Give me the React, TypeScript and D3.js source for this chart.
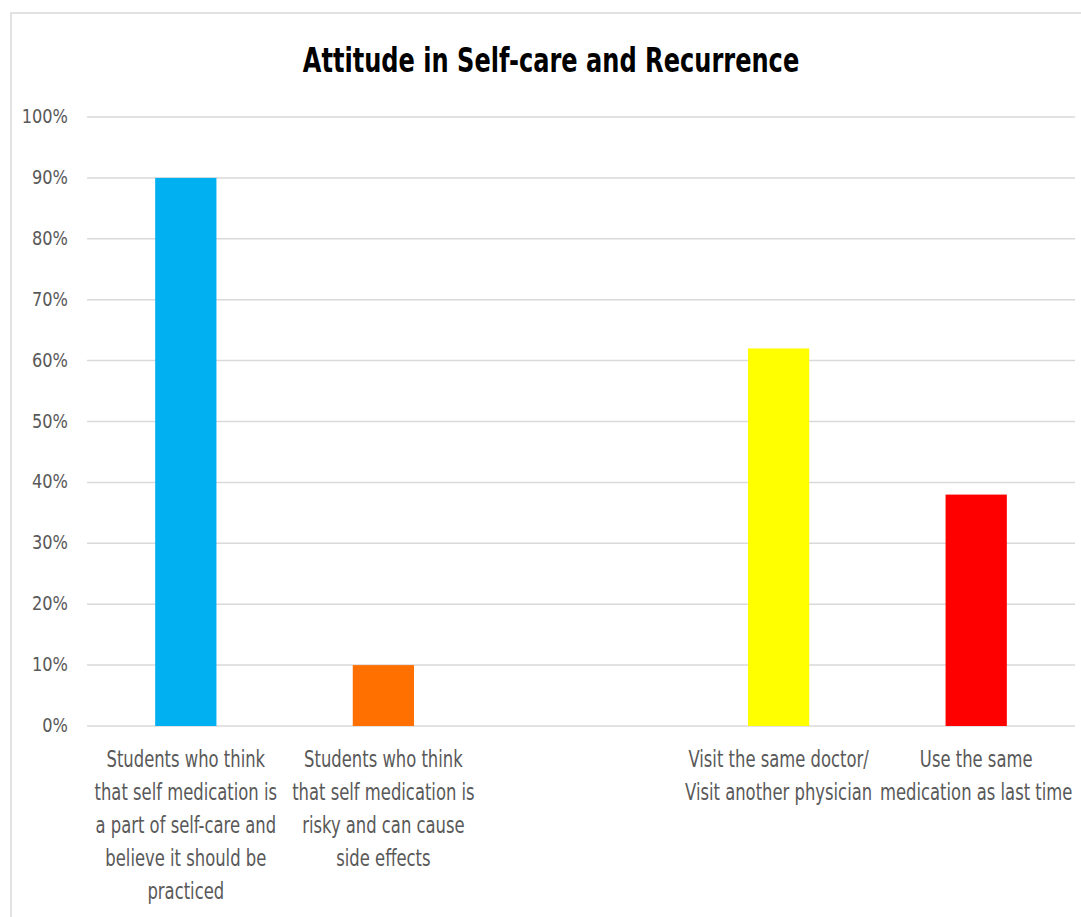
import React, { useEffect, useRef } from "react";
import * as d3 from "d3";

const categories = ["selfcare", "risky", "blank", "doctor", "samemed"];
const values: (number | null)[] = [0.9, 0.1, null, 0.62, 0.38];
const barColors = ["#00B0F0", "#FF7000", "#FFFFFF", "#FFFF00", "#FF0000"];
const labelLines: string[][] = [
  ["Students who think", "that self medication is", "a part of self-care and", "believe it should be", "practiced"],
  ["Students who think", "that self medication is", "risky and can cause", "side effects"],
  [],
  ["Visit the same doctor/", "Visit another physician"],
  ["Use the same", "medication as last time"],
];
const yTicks = [0, 0.1, 0.2, 0.3, 0.4, 0.5, 0.6, 0.7, 0.8, 0.9, 1.0];
const title = "Attitude in Self-care and Recurrence";

const W = 1081;
const H = 917;
const FONT = "'DejaVu Sans Condensed', 'Liberation Sans', sans-serif";

export default function App() {
  const ref = useRef<SVGSVGElement>(null);
  useEffect(() => {
    const svg = d3.select(ref.current);
    svg.selectAll("*").remove();

    const x = d3.scaleBand<string>().domain(categories).range([87, 1075]).padding(0);
    const y = d3.scaleLinear().domain([0, 1]).range([726, 117]);

    svg.append("rect").attr("x", 11).attr("y", 13).attr("width", W).attr("height", H)
      .attr("fill", "#fff").attr("stroke", "#d9d9d9").attr("stroke-width", 1.5);

    svg.append("g").attr("transform", "translate(551,72) scale(0.85,1.05)")
      .append("text").attr("x", 0).attr("y", 0).attr("text-anchor", "middle")
      .attr("font-family", FONT).attr("font-weight", "bold").attr("font-size", 31.5)
      .attr("fill", "#000").text(title);

    const g = svg.append("g");
    g.selectAll("line.grid").data(yTicks).join("line").attr("class", "grid")
      .attr("x1", 87).attr("x2", 1075)
      .attr("y1", (d) => y(d)).attr("y2", (d) => y(d))
      .attr("stroke", "#d9d9d9").attr("stroke-width", 1.5);

    g.selectAll("g.tick").data(yTicks).join("g").attr("class", "tick")
      .attr("transform", (d) => `translate(68,${y(d) + 6}) scale(1,1.08)`)
      .append("text")
      .attr("text-anchor", "end").attr("font-family", FONT).attr("font-size", 18)
      .attr("fill", "#595959").text((d) => d3.format(".0%")(d));

    const barW = x.bandwidth() * 0.31;
    g.selectAll("rect.bar").data(categories.map((c, i) => ({ c, v: values[i], col: barColors[i] })).filter((d) => d.v != null))
      .join("rect").attr("class", "bar")
      .attr("x", (d) => (x(d.c) as number) + x.bandwidth() / 2 - barW / 2)
      .attr("width", barW)
      .attr("y", (d) => y(d.v as number))
      .attr("height", (d) => y(0) - y(d.v as number))
      .attr("fill", (d) => d.col);

    const sx = 0.96, sy = 1.22;
    categories.forEach((c, i) => {
      const cx = (x(c) as number) + x.bandwidth() / 2;
      const t = g.append("g").attr("transform", `translate(${cx},767) scale(${sx},${sy})`)
        .append("text").attr("text-anchor", "middle").attr("font-family", FONT)
        .attr("font-size", 19).attr("fill", "#595959");
      labelLines[i].forEach((line, j) => {
        t.append("tspan").attr("x", 0).attr("y", (j * 33) / sy).text(line);
      });
    });
  }, []);
  return (
    <svg ref={ref} width={W} height={H} style={{ position: "absolute", left: 0, top: 0, display: "block" }} />
  );
}
